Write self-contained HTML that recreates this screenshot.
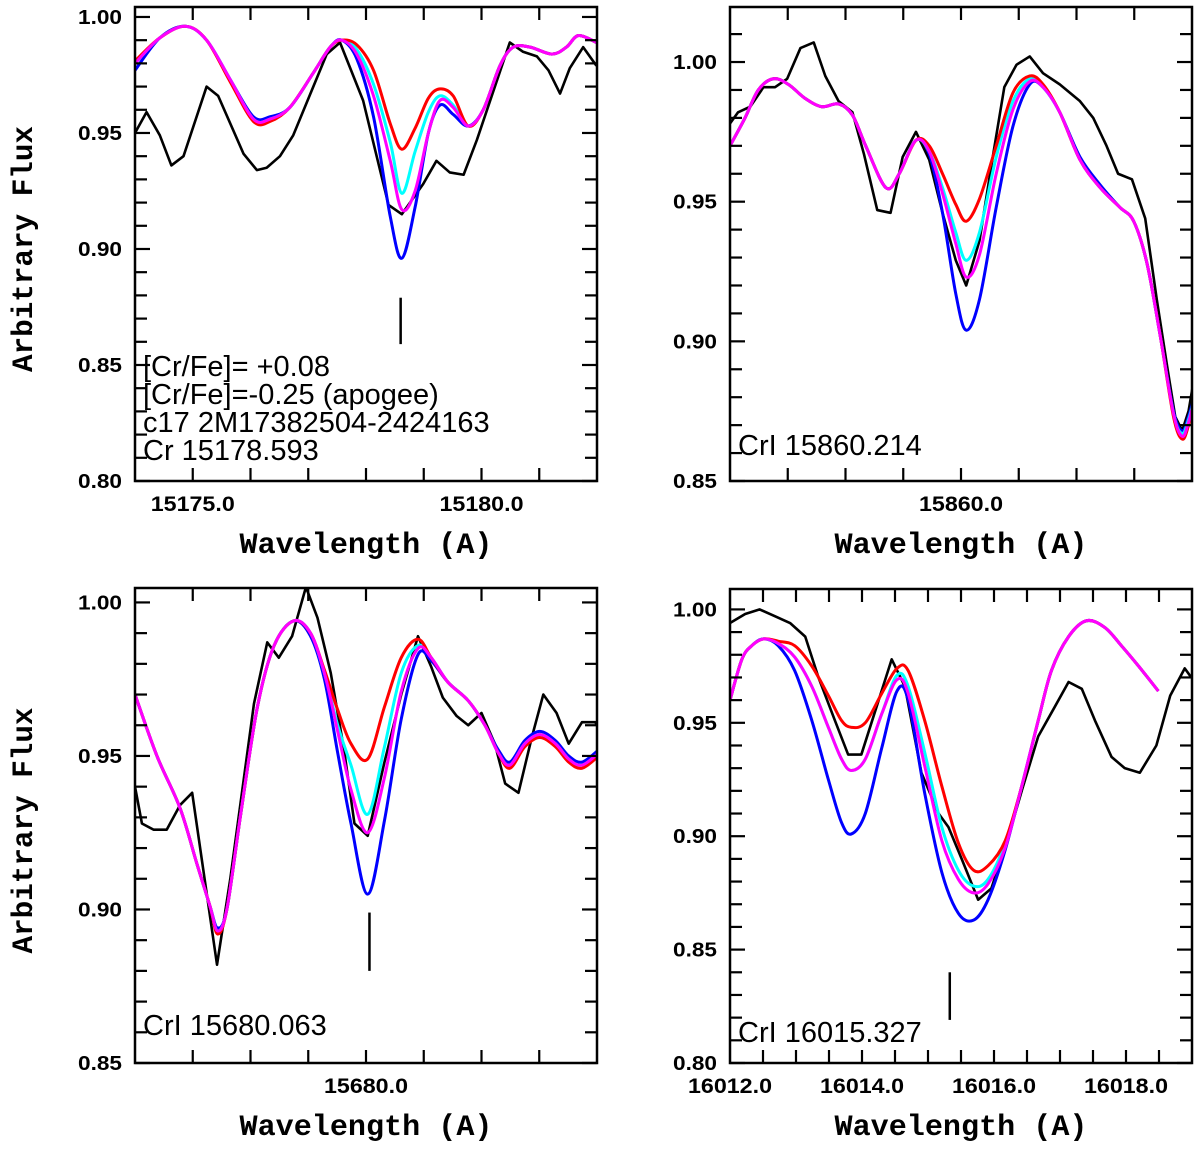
<!DOCTYPE html>
<html><head><meta charset="utf-8"><title>Cr line fits</title>
<style>
html,body{margin:0;padding:0;background:#fff;}
svg{display:block;}
</style></head>
<body>
<svg id="fig" xmlns="http://www.w3.org/2000/svg" width="1200" height="1150" viewBox="0 0 1200 1150">
<rect width="1200" height="1150" fill="#fff"/>
</svg>
<script>
// ---------- Panel 1: Cr 15178.593 ----------
const p1ObsWave = [15174.00,15174.20,15174.43,15174.63,15174.84,15175.24,15175.44,15175.88,15176.11,15176.28,15176.51,15176.74,15177.32,15177.55,15177.95,15178.39,15178.62,15178.99,15179.22,15179.45,15179.69,15179.92,15180.49,15180.72,15180.96,15181.16,15181.36,15181.53,15181.76,15181.99];
const p1ObsFlux = [0.950,0.959,0.949,0.936,0.940,0.970,0.966,0.941,0.934,0.935,0.940,0.949,0.984,0.989,0.964,0.919,0.915,0.928,0.938,0.933,0.932,0.947,0.989,0.985,0.983,0.977,0.967,0.978,0.987,0.979];
const p1ModWave = [15174.00,15174.43,15174.87,15175.24,15175.65,15176.05,15176.34,15176.68,15177.09,15177.38,15177.58,15177.84,15178.13,15178.42,15178.62,15178.85,15179.08,15179.28,15179.51,15179.77,15180.03,15180.32,15180.55,15180.84,15181.22,15181.47,15181.68,15181.99];
const p1Magenta = [0.980,0.991,0.996,0.990,0.973,0.956,0.956,0.961,0.976,0.987,0.990,0.984,0.966,0.938,0.917,0.925,0.950,0.964,0.961,0.953,0.960,0.979,0.987,0.987,0.984,0.987,0.992,0.989];
const p1Red     = [0.981,0.991,0.996,0.990,0.972,0.955,0.955,0.961,0.976,0.987,0.990,0.988,0.977,0.954,0.943,0.952,0.965,0.969,0.966,0.953,0.960,0.979,0.987,0.987,0.984,0.987,0.992,0.989];
const p1Cyan    = [0.980,0.991,0.996,0.990,0.973,0.956,0.956,0.961,0.976,0.987,0.990,0.986,0.971,0.946,0.924,0.942,0.959,0.966,0.962,0.953,0.960,0.979,0.987,0.987,0.984,0.987,0.992,0.989];
const p1Blue    = [0.977,0.991,0.996,0.990,0.973,0.957,0.957,0.961,0.976,0.987,0.990,0.982,0.957,0.914,0.896,0.918,0.950,0.962,0.958,0.953,0.960,0.979,0.987,0.987,0.984,0.987,0.992,0.989];
const p1Line = [15178.60, 0.879, 0.859];
const p1Notes = ["[Cr/Fe]= +0.08","[Cr/Fe]=-0.25 (apogee)","c17 2M17382504-2424163","Cr 15178.593"];
const p1XTicks = [15175,15176,15177,15178,15179,15180,15181];
const p1XLabels = ["15175.0","15180.0"];
const p1XLabelVals = [15175,15180];
const p1YLabels = ["0.80","0.85","0.90","0.95","1.00"];

// ---------- Panel 2: CrI 15860.214 ----------
const p2ObsWave = [15856.00,15856.14,15856.35,15856.58,15856.78,15856.99,15857.22,15857.45,15857.65,15857.88,15858.12,15858.32,15858.55,15858.78,15858.99,15859.22,15859.45,15859.68,15859.91,15860.09,15860.32,15860.55,15860.75,15860.96,15861.19,15861.42,15861.71,15862.06,15862.29,15862.52,15862.72,15862.96,15863.19,15863.39,15863.57,15863.71,15863.83,15863.94,15864.03];
const p2ObsFlux = [0.978,0.982,0.984,0.991,0.991,0.994,1.005,1.007,0.995,0.986,0.982,0.967,0.947,0.946,0.966,0.975,0.965,0.946,0.929,0.920,0.936,0.966,0.991,0.999,1.002,0.996,0.992,0.986,0.980,0.970,0.960,0.958,0.944,0.915,0.891,0.873,0.868,0.875,0.886];
const p2ModWave = [15856.00,15856.26,15856.49,15856.75,15857.01,15857.30,15857.59,15857.88,15858.12,15858.35,15858.70,15858.93,15859.22,15859.45,15859.68,15859.91,15860.09,15860.32,15860.61,15860.90,15861.19,15861.42,15861.71,15862.06,15862.41,15862.75,15862.99,15863.22,15863.45,15863.68,15863.83,15863.94,15864.06];
const p2Magenta = [0.970,0.980,0.990,0.994,0.992,0.987,0.984,0.985,0.981,0.970,0.955,0.960,0.972,0.968,0.953,0.935,0.923,0.931,0.960,0.983,0.993,0.991,0.982,0.965,0.955,0.948,0.943,0.928,0.902,0.874,0.866,0.871,0.881];
const p2Red     = [0.970,0.980,0.990,0.994,0.992,0.987,0.984,0.985,0.981,0.970,0.955,0.960,0.972,0.970,0.960,0.949,0.943,0.951,0.970,0.989,0.995,0.992,0.982,0.965,0.955,0.948,0.943,0.928,0.902,0.873,0.865,0.870,0.881];
const p2Cyan    = [0.970,0.980,0.990,0.994,0.992,0.987,0.984,0.985,0.981,0.970,0.955,0.960,0.972,0.968,0.955,0.939,0.929,0.939,0.966,0.986,0.994,0.991,0.982,0.965,0.955,0.948,0.943,0.928,0.902,0.874,0.867,0.872,0.881];
const p2Blue    = [0.970,0.980,0.990,0.994,0.992,0.987,0.984,0.985,0.981,0.970,0.955,0.960,0.972,0.967,0.946,0.917,0.904,0.915,0.948,0.977,0.992,0.991,0.982,0.966,0.956,0.948,0.943,0.928,0.902,0.875,0.868,0.873,0.882];
const p2Notes = ["CrI 15860.214"];
const p2XTicks = [15857,15858,15859,15860,15861,15862,15863];
const p2XLabels = ["15860.0"];
const p2XLabelVals = [15860];
const p2YLabels = ["0.85","0.90","0.95","1.00"];

// ---------- Panel 3: CrI 15680.063 ----------
const p3ObsWave = [15676.00,15676.12,15676.32,15676.55,15676.78,15676.99,15677.42,15677.65,15678.06,15678.29,15678.49,15678.72,15678.96,15679.16,15679.39,15679.62,15679.80,15680.03,15680.32,15680.61,15680.90,15681.13,15681.33,15681.57,15681.77,15682.00,15682.23,15682.41,15682.64,15682.87,15683.07,15683.30,15683.51,15683.74,15683.97,15684.03];
const p3ObsFlux = [0.940,0.928,0.926,0.926,0.934,0.938,0.882,0.910,0.967,0.987,0.982,0.989,1.005,0.995,0.977,0.952,0.928,0.924,0.948,0.970,0.989,0.979,0.969,0.963,0.960,0.964,0.954,0.941,0.938,0.956,0.970,0.964,0.954,0.961,0.961,0.959];
const p3ModWave = [15676.00,15676.38,15676.78,15677.07,15677.30,15677.43,15677.59,15677.83,15678.12,15678.41,15678.75,15679.04,15679.28,15679.51,15679.74,15680.03,15680.32,15680.61,15680.90,15681.13,15681.42,15681.77,15682.06,15682.29,15682.49,15682.75,15683.01,15683.28,15683.51,15683.74,15684.03];
const p3Magenta = [0.970,0.950,0.933,0.915,0.901,0.893,0.900,0.931,0.966,0.986,0.994,0.990,0.977,0.958,0.939,0.925,0.943,0.971,0.985,0.982,0.974,0.968,0.960,0.951,0.947,0.954,0.957,0.954,0.949,0.947,0.951];
const p3Red     = [0.970,0.950,0.933,0.915,0.901,0.892,0.900,0.931,0.966,0.986,0.994,0.990,0.978,0.965,0.954,0.949,0.966,0.982,0.988,0.982,0.974,0.968,0.960,0.951,0.946,0.953,0.956,0.953,0.948,0.946,0.950];
const p3Cyan    = [0.970,0.950,0.933,0.915,0.901,0.893,0.900,0.931,0.966,0.986,0.994,0.990,0.977,0.960,0.947,0.931,0.953,0.977,0.986,0.982,0.974,0.968,0.960,0.951,0.947,0.954,0.957,0.954,0.949,0.947,0.951];
const p3Blue    = [0.970,0.950,0.933,0.915,0.901,0.894,0.900,0.931,0.966,0.986,0.994,0.989,0.975,0.951,0.928,0.905,0.929,0.962,0.983,0.981,0.974,0.968,0.960,0.952,0.948,0.955,0.958,0.955,0.950,0.948,0.952];
const p3Line = [15680.06, 0.899, 0.880];
const p3Notes = ["CrI 15680.063"];
const p3XTicks = [15677,15678,15679,15680,15681,15682,15683];
const p3XLabels = ["15680.0"];
const p3XLabelVals = [15680];
const p3YLabels = ["0.85","0.90","0.95","1.00"];

// ---------- Panel 4: CrI 16015.327 ----------
const p4ObsWave = [16012.00,16012.23,16012.45,16012.68,16012.91,16013.14,16013.34,16013.59,16013.79,16013.99,16014.22,16014.45,16014.65,16014.90,16015.16,16015.31,16015.51,16015.76,16015.96,16016.22,16016.42,16016.67,16016.92,16017.13,16017.33,16017.53,16017.78,16017.98,16018.21,16018.46,16018.67,16018.89,16018.99];
const p4ObsFlux = [0.994,0.998,1.000,0.997,0.994,0.988,0.970,0.951,0.936,0.936,0.957,0.978,0.966,0.928,0.910,0.904,0.890,0.872,0.877,0.900,0.920,0.944,0.957,0.968,0.965,0.951,0.935,0.930,0.928,0.940,0.962,0.974,0.970];
const p4ModWave = [16012.00,16012.18,16012.33,16012.51,16012.73,16012.98,16013.24,16013.49,16013.69,16013.84,16014.05,16014.30,16014.53,16014.70,16014.95,16015.21,16015.46,16015.69,16015.91,16016.17,16016.42,16016.67,16016.87,16017.13,16017.40,16017.68,16017.93,16018.19,16018.49];
const p4Magenta = [0.960,0.978,0.984,0.987,0.985,0.979,0.966,0.948,0.934,0.929,0.934,0.954,0.969,0.963,0.931,0.898,0.881,0.875,0.879,0.895,0.922,0.951,0.973,0.988,0.995,0.992,0.984,0.975,0.964];
const p4Red     = [0.960,0.978,0.984,0.987,0.986,0.984,0.975,0.962,0.951,0.948,0.950,0.963,0.974,0.973,0.951,0.922,0.897,0.885,0.887,0.898,0.922,0.951,0.973,0.988,0.995,0.992,0.984,0.975,0.964];
const p4Cyan    = [0.960,0.978,0.984,0.987,0.985,0.979,0.966,0.948,0.934,0.929,0.934,0.954,0.971,0.966,0.937,0.904,0.885,0.878,0.881,0.897,0.922,0.951,0.973,0.988,0.995,0.992,0.984,0.975,0.964];
const p4Blue    = [0.960,0.978,0.984,0.987,0.984,0.973,0.951,0.925,0.906,0.901,0.910,0.939,0.964,0.960,0.919,0.884,0.866,0.863,0.872,0.894,0.922,0.951,0.973,0.988,0.995,0.992,0.984,0.975,0.964];
const p4Line = [16015.33, 0.840, 0.819];
const p4Notes = ["CrI 16015.327"];
const p4XTicks = [16012.5,16013,16013.5,16014,16014.5,16015,16015.5,16016,16016.5,16017,16017.5,16018,16018.5];
const p4XLabels = ["16012.0","16014.0","16016.0","16018.0"];
const p4XLabelVals = [16012,16014,16016,16018];
const p4YLabels = ["0.80","0.85","0.90","0.95","1.00"];

const NS = "http://www.w3.org/2000/svg";
const svg = document.getElementById('fig');
function mk(tag, attrs, parent) {
  const e = document.createElementNS(NS, tag);
  for (const k in attrs) e.setAttribute(k, attrs[k]);
  (parent || svg).appendChild(e);
  return e;
}
function smoothPath(pts) {
  let d = "M" + pts[0][0].toFixed(2) + "," + pts[0][1].toFixed(2);
  for (let i = 0; i < pts.length - 1; i++) {
    const p0 = pts[Math.max(0, i - 1)], p1 = pts[i], p2 = pts[i + 1], p3 = pts[Math.min(pts.length - 1, i + 2)];
    const c1x = p1[0] + (p2[0] - p0[0]) / 6, c1y = p1[1] + (p2[1] - p0[1]) / 6;
    const c2x = p2[0] - (p3[0] - p1[0]) / 6, c2y = p2[1] - (p3[1] - p1[1]) / 6;
    d += " C" + c1x.toFixed(2) + "," + c1y.toFixed(2) + " " + c2x.toFixed(2) + "," + c2y.toFixed(2) + " " + p2[0].toFixed(2) + "," + p2[1].toFixed(2);
  }
  return d;
}

function drawPanel(cfg) {
  const {id, L, R, T, B, x0, x1, y0, y1} = cfg;
  const g = mk('g', {});
  
  
  const sx = v => L + (v - x0) / (x1 - x0) * (R - L);
  const sy = v => B - (v - y0) / (y1 - y0) * (B - T);
  const clipId = id + '-clip';
  const cp = mk('clipPath', {id: clipId}, g);
  mk('rect', {x: L, y: T, width: R - L, height: B - T}, cp);
  const plot = mk('g', {'clip-path': 'url(#' + clipId + ')'}, g);
  
  

  const obs = mk('polyline', {points: cfg.obsW.map((w, i) => sx(w).toFixed(2) + ',' + sy(cfg.obsF[i]).toFixed(2)).join(' '), fill: 'none', stroke: '#000', 'stroke-width': 2.6, 'stroke-linejoin': 'round'}, plot);
  
  
  const models = [['blue', '#0000ff', cfg.blue], ['cyan', '#00ffff', cfg.cyan], ['red', '#ff0000', cfg.red], ['magenta', '#ff00ff', cfg.magenta]];
  models.forEach(m => {
    const pts = cfg.modW.map((w, i) => [sx(w), sy(m[2][i])]);
    const p = mk('path', {d: smoothPath(pts), fill: 'none', stroke: m[1], 'stroke-width': 3, 'stroke-linejoin': 'round'}, plot);
    
    
  });
  if (cfg.line) {
    const ln = mk('line', {x1: sx(cfg.line[0]), x2: sx(cfg.line[0]), y1: sy(cfg.line[1]), y2: sy(cfg.line[2]), stroke: '#000', 'stroke-width': 2.5}, g);
    
    
  }
  const fr = mk('rect', {x: L, y: T, width: R - L, height: B - T, fill: 'none', stroke: '#000', 'stroke-width': 2.5}, g);
  
  
  cfg.xTicks.forEach(v => {
    const x = sx(v);
    mk('line', {x1: x, x2: x, y1: B, y2: B - 13, stroke: '#000', 'stroke-width': 2.2}, g);
    mk('line', {x1: x, x2: x, y1: T, y2: T + 13, stroke: '#000', 'stroke-width': 2.2}, g);
  });
  cfg.xLabelVals.forEach((v, i) => {
    const t = mk('text', {x: sx(v), y: B + 30, 'text-anchor': 'middle', 'font-family': 'Liberation Sans, sans-serif', 'font-weight': 'bold', 'font-size': 21, textLength: 84, lengthAdjust: 'spacingAndGlyphs'}, g);
    t.textContent = cfg.xLabels[i];
    
    
  });
  const start = Math.ceil(y0 * 100 - 1e-6);
  for (let k = start; k <= Math.floor(y1 * 100 + 1e-6); k++) {
    const y = sy(k / 100);
    const len = (k % 5 === 0) ? 15 : 12;
    mk('line', {x1: L, x2: L + len, y1: y, y2: y, stroke: '#000', 'stroke-width': 2.2}, g);
    mk('line', {x1: R, x2: R - len, y1: y, y2: y, stroke: '#000', 'stroke-width': 2.2}, g);
  }
  cfg.yLabels.forEach(s => {
    const t = mk('text', {x: L - 13, y: sy(parseFloat(s)) + 7, 'text-anchor': 'end', 'font-family': 'Liberation Sans, sans-serif', 'font-weight': 'bold', 'font-size': 20, textLength: 44, lengthAdjust: 'spacingAndGlyphs'}, g);
    t.textContent = s;
    
    
  });
  cfg.notes.forEach((s, i) => {
    const t = mk('text', {x: L + 8, y: cfg.noteY + i * 28, 'font-family': 'Liberation Sans, sans-serif', 'font-size': 29}, g);
    t.textContent = s;
    
    
  });
  const xt = mk('text', {x: (L + R) / 2, y: B + 72, 'text-anchor': 'middle', 'font-family': 'Liberation Mono, monospace', 'font-weight': 'bold', 'font-size': 30, textLength: 253, lengthAdjust: 'spacingAndGlyphs'}, g);
  xt.textContent = 'Wavelength (A)';
  
  
  if (cfg.yTitle) {
    const cy = (T + B) / 2 + 5;
    const yt = mk('text', {x: 0, y: 0, transform: 'translate(32,' + cy + ') rotate(-90)', 'text-anchor': 'middle', 'font-family': 'Liberation Mono, monospace', 'font-weight': 'bold', 'font-size': 30, textLength: 246, lengthAdjust: 'spacingAndGlyphs'}, g);
    yt.textContent = 'Arbitrary Flux';
    
    
  }
}

drawPanel({id: 'panel-cr15178', L: 135, R: 597, T: 7, B: 481, x0: 15174, x1: 15182, y0: 0.80, y1: 1.0043,
  obsW: p1ObsWave, obsF: p1ObsFlux, modW: p1ModWave, magenta: p1Magenta, red: p1Red, cyan: p1Cyan, blue: p1Blue,
  line: p1Line, notes: p1Notes, noteY: 376, xTicks: p1XTicks, xLabels: p1XLabels, xLabelVals: p1XLabelVals, yLabels: p1YLabels, yTitle: true});
drawPanel({id: 'panel-cr15860', L: 730, R: 1192, T: 7, B: 481, x0: 15856, x1: 15864, y0: 0.85, y1: 1.0197,
  obsW: p2ObsWave, obsF: p2ObsFlux, modW: p2ModWave, magenta: p2Magenta, red: p2Red, cyan: p2Cyan, blue: p2Blue,
  line: null, notes: p2Notes, noteY: 455, xTicks: p2XTicks, xLabels: p2XLabels, xLabelVals: p2XLabelVals, yLabels: p2YLabels, yTitle: false});
drawPanel({id: 'panel-cr15680', L: 135, R: 597, T: 588, B: 1063, x0: 15676, x1: 15684, y0: 0.85, y1: 1.0047,
  obsW: p3ObsWave, obsF: p3ObsFlux, modW: p3ModWave, magenta: p3Magenta, red: p3Red, cyan: p3Cyan, blue: p3Blue,
  line: p3Line, notes: p3Notes, noteY: 1035, xTicks: p3XTicks, xLabels: p3XLabels, xLabelVals: p3XLabelVals, yLabels: p3YLabels, yTitle: true});
drawPanel({id: 'panel-cr16015', L: 730, R: 1192, T: 589, B: 1063, x0: 16012, x1: 16019, y0: 0.80, y1: 1.009,
  obsW: p4ObsWave, obsF: p4ObsFlux, modW: p4ModWave, magenta: p4Magenta, red: p4Red, cyan: p4Cyan, blue: p4Blue,
  line: p4Line, notes: p4Notes, noteY: 1042, xTicks: p4XTicks, xLabels: p4XLabels, xLabelVals: p4XLabelVals, yLabels: p4YLabels, yTitle: false});
</script>
</body></html>
